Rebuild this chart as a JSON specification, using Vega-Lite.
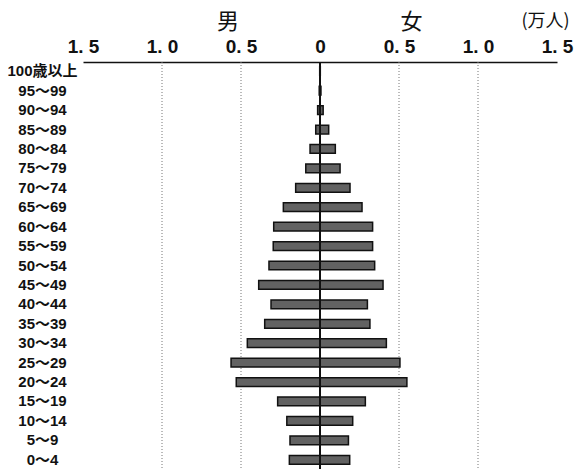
{
  "$schema": "https://vega.github.io/schema/vega-lite/v6.json",
  "width": 474,
  "height": 407,
  "autosize": {"type": "none"},
  "padding": {"left": 83, "top": 62, "right": 29, "bottom": 3},
  "background": "white",
  "title": {
    "text": "男",
    "anchor": "start",
    "align": "center",
    "baseline": "middle",
    "frame": "group",
    "dx": 145,
    "dy": 38,
    "font": "Noto Sans CJK JP",
    "fontSize": 22,
    "fontWeight": "normal",
    "color": "#111"
  },
  "config": {"view": {"stroke": null}},
  "datasets": {
    "pop": [
      {"age": "100歳以上", "sex": "男", "value": -0.002},
      {"age": "95～99", "sex": "男", "value": -0.005},
      {"age": "90～94", "sex": "男", "value": -0.015},
      {"age": "85～89", "sex": "男", "value": -0.027},
      {"age": "80～84", "sex": "男", "value": -0.063},
      {"age": "75～79", "sex": "男", "value": -0.09},
      {"age": "70～74", "sex": "男", "value": -0.154},
      {"age": "65～69", "sex": "男", "value": -0.232},
      {"age": "60～64", "sex": "男", "value": -0.293},
      {"age": "55～59", "sex": "男", "value": -0.296},
      {"age": "50～54", "sex": "男", "value": -0.323},
      {"age": "45～49", "sex": "男", "value": -0.388},
      {"age": "40～44", "sex": "男", "value": -0.31},
      {"age": "35～39", "sex": "男", "value": -0.35},
      {"age": "30～34", "sex": "男", "value": -0.46},
      {"age": "25～29", "sex": "男", "value": -0.563},
      {"age": "20～24", "sex": "男", "value": -0.53},
      {"age": "15～19", "sex": "男", "value": -0.268},
      {"age": "10～14", "sex": "男", "value": -0.21},
      {"age": "5～9", "sex": "男", "value": -0.19},
      {"age": "0～4", "sex": "男", "value": -0.194},
      {"age": "100歳以上", "sex": "女", "value": 0.002},
      {"age": "95～99", "sex": "女", "value": 0.006},
      {"age": "90～94", "sex": "女", "value": 0.02},
      {"age": "85～89", "sex": "女", "value": 0.055},
      {"age": "80～84", "sex": "女", "value": 0.097},
      {"age": "75～79", "sex": "女", "value": 0.127},
      {"age": "70～74", "sex": "女", "value": 0.19},
      {"age": "65～69", "sex": "女", "value": 0.266},
      {"age": "60～64", "sex": "女", "value": 0.333},
      {"age": "55～59", "sex": "女", "value": 0.333},
      {"age": "50～54", "sex": "女", "value": 0.346},
      {"age": "45～49", "sex": "女", "value": 0.399},
      {"age": "40～44", "sex": "女", "value": 0.30},
      {"age": "35～39", "sex": "女", "value": 0.316},
      {"age": "30～34", "sex": "女", "value": 0.42},
      {"age": "25～29", "sex": "女", "value": 0.506},
      {"age": "20～24", "sex": "女", "value": 0.55},
      {"age": "15～19", "sex": "女", "value": 0.287},
      {"age": "10～14", "sex": "女", "value": 0.207},
      {"age": "5～9", "sex": "女", "value": 0.18},
      {"age": "0～4", "sex": "女", "value": 0.188}
    ],
    "grid": [
      {"value": -1.0},
      {"value": -0.5},
      {"value": 0.5},
      {"value": 1.0}
    ],
    "zero": [
      {"value": 0}
    ]
  },
  "encoding": {
    "x": {
      "field": "value",
      "type": "quantitative",
      "scale": {"domain": [-1.5, 1.5], "nice": false, "zero": false},
      "axis": {
        "orient": "top",
        "values": [-1.5, -1, -0.5, 0, 0.5, 1, 1.5],
        "labelExpr": "datum.value == 0 ? '0' : replace(format(abs(datum.value), '.1f'), '.', '. ')",
        "labelFont": "Liberation Sans Narrow, Liberation Sans",
        "labelFontWeight": "bold",
        "labelFontSize": 19,
        "labelColor": "#111",
        "labelPadding": 6,
        "labelFlush": false,
        "labelOverlap": false,
        "ticks": false,
        "grid": false,
        "domain": true,
        "domainColor": "#111",
        "domainWidth": 1.5,
        "title": "女",
        "titleFont": "Noto Sans CJK JP",
        "titleFontSize": 22,
        "titleFontWeight": "normal",
        "titleColor": "#111",
        "titleX": 328,
        "titleY": -41,
        "titleAlign": "center",
        "titleBaseline": "middle",
        "titleAngle": 0
      }
    }
  },
  "layer": [
    {
      "data": {"name": "grid"},
      "mark": {"type": "rule", "color": "#777", "strokeWidth": 1, "strokeDash": [1, 2]},
      "encoding": {}
    },
    {
      "data": {"name": "pop"},
      "mark": {"type": "bar", "fill": "#626262", "stroke": "#111", "strokeWidth": 1.5},
      "encoding": {
        "y": {
          "field": "age",
          "type": "nominal",
          "sort": ["100歳以上", "95～99", "90～94", "85～89", "80～84", "75～79", "70～74", "65～69", "60～64", "55～59", "50～54", "45～49", "40～44", "35～39", "30～34", "25～29", "20～24", "15～19", "10～14", "5～9", "0～4"],
          "scale": {"paddingInner": 0.55, "paddingOuter": 0.25},
          "axis": {
            "domain": false,
            "ticks": false,
            "labelAlign": "center",
            "labelPadding": 41,
            "labelFont": "Liberation Sans Narrow, Liberation Sans, Noto Sans CJK JP",
            "labelFontWeight": "bold",
            "labelFontSize": 15,
            "labelColor": "#111",
            "title": "(万人)",
            "titleFont": "Noto Sans CJK JP",
            "titleFontSize": 18,
            "titleFontWeight": "normal",
            "titleColor": "#111",
            "titleAngle": 0,
            "titleX": 462,
            "titleY": -41,
            "titleAlign": "center",
            "titleBaseline": "middle"
          }
        }
      }
    },
    {
      "data": {"name": "zero"},
      "mark": {"type": "rule", "color": "#111", "strokeWidth": 2},
      "encoding": {}
    }
  ]
}
